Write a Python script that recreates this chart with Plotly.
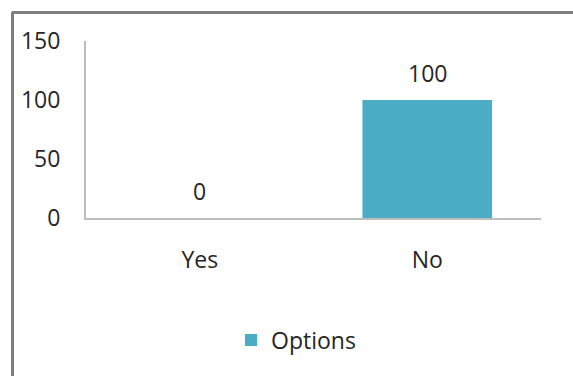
import plotly.graph_objects as go

categories = ["Yes", "No"]
values = [0, 100]
series_name = "Options"
y_ticks = [0, 50, 100, 150]

W, H = 573, 376
L, R, T, B = 86, 541, 41, 218  # plot area in pixels

font_family = "Open Sans, Liberation Sans, sans-serif"
text_color = "#262626"
bar_color = "#4BACC6"
axis_color = "#bdbdbd"
fs = 23

fig = go.Figure()
fig.add_trace(go.Bar(
    x=categories, y=values, name=series_name,
    marker=dict(color=bar_color, line=dict(width=0)),
    width=0.57, showlegend=True,
))

# value labels above each bar
for c, v in zip(categories, values):
    fig.add_annotation(x=c, y=v, text=str(v), showarrow=False,
                       yshift=27, font=dict(size=fs, color=text_color, family=font_family))

def px(xp):
    return (xp - L) / (R - L)

def py(yp):
    return (B - yp) / (B - T)

# frame around the chart area (top and left edges)
fig.add_shape(type="line", xref="paper", yref="paper",
              x0=px(12), x1=px(575), y0=py(12.5), y1=py(12.5),
              line=dict(color="#7f7f7f", width=3))
fig.add_shape(type="line", xref="paper", yref="paper",
              x0=px(12.5), x1=px(12.5), y0=py(12), y1=py(380),
              line=dict(color="#7f7f7f", width=3))

fig.update_layout(
    width=W, height=H,
    margin=dict(l=L, r=W - R, t=T, b=H - B, pad=0),
    paper_bgcolor="white", plot_bgcolor="white",
    font=dict(family=font_family, size=fs, color=text_color),
    bargap=0.43,
    showlegend=True,
    legend=dict(orientation="h", x=px(296), xanchor="center",
                y=py(340), yanchor="middle",
                font=dict(size=fs, color=text_color, family=font_family),
                itemwidth=30),
    xaxis=dict(showline=True, linecolor=axis_color, linewidth=2,
               showgrid=False, ticks="", ticklen=0, ticklabelstandoff=20,
               tickfont=dict(size=fs, color=text_color)),
    yaxis=dict(range=[0, 150], tickvals=y_ticks, showline=True,
               linecolor=axis_color, linewidth=2, showgrid=False,
               zeroline=False, ticks="", ticklabelstandoff=19,
               tickfont=dict(size=fs, color=text_color)),
)

fig.write_html("out.html")
